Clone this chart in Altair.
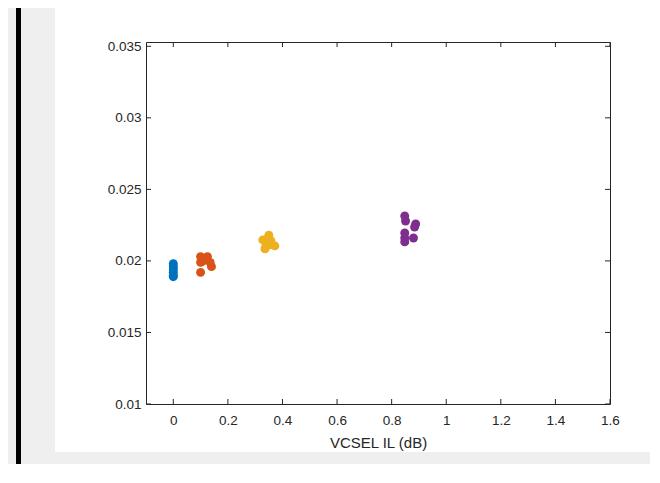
import altair as alt
import pandas as pd

# ---- data ----
blue_x = [0.0, 0.0, 0.0, 0.0, 0.0, 0.0]
blue_y = [0.0198, 0.0196, 0.0194, 0.0192, 0.0190, 0.0189]

orange_x = [0.10, 0.125, 0.11, 0.10, 0.135, 0.14, 0.10]
orange_y = [0.0203, 0.0203, 0.0200, 0.0199, 0.0199, 0.0196, 0.0192]

yellow_x = [0.350, 0.328, 0.358, 0.339, 0.372, 0.336, 0.355]
yellow_y = [0.0218, 0.02147, 0.0214, 0.02105, 0.02105, 0.02084, 0.02112]

purple_x = [0.848, 0.851, 0.888, 0.884, 0.848, 0.848, 0.848, 0.880]
purple_y = [0.02314, 0.02279, 0.02258, 0.02237, 0.02195, 0.0216, 0.02133, 0.0216]

group_names = ["A", "B", "C", "D"]
group_colors = ["#0072BD", "#D95319", "#EDB120", "#7E2F8E"]

x_ticks = [0, 0.2, 0.4, 0.6, 0.8, 1, 1.2, 1.4, 1.6]
y_ticks = [0.01, 0.015, 0.02, 0.025, 0.03, 0.035]
x_title = "VCSEL IL (dB)"

# ---- build table ----
rows = []
for name, xs, ys in zip(group_names,
                        [blue_x, orange_x, yellow_x, purple_x],
                        [blue_y, orange_y, yellow_y, purple_y]):
    for xv, yv in zip(xs, ys):
        rows.append({"x": xv, "y": yv, "g": name})
df = pd.DataFrame(rows)

W, H = 464, 362
AX = "#262626"
FONT = "Liberation Sans"
TL = 5
PR = 40

xscale = alt.Scale(domain=[-0.1, 1.6], nice=False, zero=False)
yscale = alt.Scale(domain=[0.01, 0.0353], nice=False, zero=False)

xaxis = alt.Axis(values=x_ticks, format="~g", title=x_title, grid=False,
                 domain=False, ticks=False, labelFont=FONT, labelFontSize=13.5,
                 labelColor=AX, labelPadding=9, titleFont=FONT,
                 titleFontSize=15, titleFontWeight="normal", titleColor=AX,
                 titlePadding=9, labelFlush=False)
yaxis = alt.Axis(values=y_ticks, format="~g", title=None, grid=False,
                 domain=False, ticks=False, labelFont=FONT, labelFontSize=13.5,
                 labelColor=AX, labelPadding=5)

points = alt.Chart(df).mark_circle(size=80, opacity=1).encode(
    x=alt.X("x:Q", scale=xscale, axis=xaxis),
    y=alt.Y("y:Q", scale=yscale, axis=yaxis),
    color=alt.Color("g:N", scale=alt.Scale(domain=group_names, range=group_colors),
                    legend=None),
)

xt = pd.DataFrame({"t": x_ticks})
yt = pd.DataFrame({"t": y_ticks})

tick_style = dict(color=AX, strokeWidth=1)
xb = alt.Chart(xt).mark_rule(**tick_style).encode(
    x=alt.X("t:Q", scale=xscale), y=alt.value(H), y2=alt.value(H - TL))
xtop = alt.Chart(xt).mark_rule(**tick_style).encode(
    x=alt.X("t:Q", scale=xscale), y=alt.value(0), y2=alt.value(TL))
yl = alt.Chart(yt).mark_rule(**tick_style).encode(
    y=alt.Y("t:Q", scale=yscale), x=alt.value(0), x2=alt.value(TL))
yr = alt.Chart(yt).mark_rule(**tick_style).encode(
    y=alt.Y("t:Q", scale=yscale), x=alt.value(W), x2=alt.value(W - TL))

one = alt.Data(values=[{"a": 1}])
gray = "#efefef"
left_strip = alt.Chart(one).mark_rect(color=gray).encode(
    x=alt.value(-138), x2=alt.value(-91), y=alt.value(-34), y2=alt.value(422))
bottom_strip = alt.Chart(one).mark_rect(color=gray).encode(
    x=alt.value(-138), x2=alt.value(W + PR), y=alt.value(410), y2=alt.value(422))
black_bar = alt.Chart(one).mark_rect(color="#000000").encode(
    x=alt.value(-130), x2=alt.value(-125), y=alt.value(-34), y2=alt.value(422))

chart = alt.layer(left_strip, bottom_strip, black_bar, xb, xtop, yl, yr, points).properties(
    width=W, height=H,
    autosize=alt.AutoSizeParams(type="none"),
    padding={"left": 138, "top": 34, "right": PR, "bottom": 60},
    background="white",
).configure_view(stroke=AX, strokeWidth=1).resolve_scale(x="shared", y="shared")

chart.save("out.html", embed_options={"renderer": "svg", "actions": False})
